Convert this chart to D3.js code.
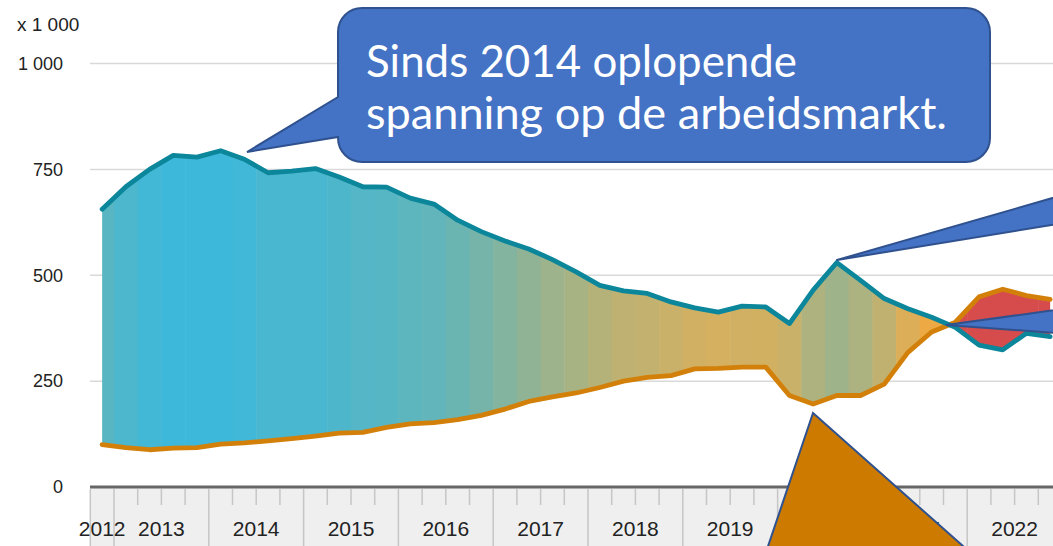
<!DOCTYPE html>
<html>
<head>
<meta charset="utf-8">
<script src="https://cdn.jsdelivr.net/npm/d3@7"></script>
<style>
    body { margin: 0; background: #fff; }
    svg { display: block; }
</style>
</head>
<body>
<svg id="chart" width="1053" height="546"></svg>
<script>
// quarterly figures, x 1 000
var quarters = ["2012 Q4",
    "2013 Q1", "2013 Q2", "2013 Q3", "2013 Q4",
    "2014 Q1", "2014 Q2", "2014 Q3", "2014 Q4",
    "2015 Q1", "2015 Q2", "2015 Q3", "2015 Q4",
    "2016 Q1", "2016 Q2", "2016 Q3", "2016 Q4",
    "2017 Q1", "2017 Q2", "2017 Q3", "2017 Q4",
    "2018 Q1", "2018 Q2", "2018 Q3", "2018 Q4",
    "2019 Q1", "2019 Q2", "2019 Q3", "2019 Q4",
    "2020 Q1", "2020 Q2", "2020 Q3", "2020 Q4",
    "2021 Q1", "2021 Q2", "2021 Q3", "2021 Q4",
    "2022 Q1", "2022 Q2", "2022 Q3", "2022 Q4"];

var werklozen = [656,
    709, 750, 783, 779,
    794, 774, 742, 746,
    752, 732, 709, 708,
    682, 668, 630, 603,
    581, 562, 537, 508,
    476, 463, 457, 437,
    423, 413, 427, 425,
    386, 465, 530, 488,
    445, 421, 401, 377,
    335, 324, 363, 355];

var vacatures = [100,
    93, 88, 92, 93,
    101, 104, 109, 114,
    120, 127, 129, 141,
    149, 152, 159, 169,
    184, 202, 213, 222,
    235, 250, 259, 263,
    279, 280, 283, 283,
    216, 196, 216, 216,
    243, 318, 366, 389,
    449, 467, 452, 443];

var years = ["2012", "2013", "2014", "2015", "2016", "2017", "2018", "2019", "2020", "2021", "2022"];
var yTicks = [0, 250, 500, 750, 1000];

var W = 1053, H = 546;
var svg = d3.select("#chart");

var x = d3.scaleBand()
    .domain(quarters)
    .range([90.3, 90.3 + quarters.length * 23.7]);

var y = d3.scaleLinear()
    .domain([0, 1000])
    .range([487, 63.5]);

function cx(q) {
    return x(q) + x.bandwidth() / 2;
}

var nl = d3.formatLocale({ decimal: ",", thousands: " ", grouping: [3], currency: ["€", ""] });
var fmt = nl.format(",d");

var data = quarters.map(function (q, i) {
    return { q: q, w: werklozen[i], v: vacatures[i] };
});

// strip colour from the gap between the two series
var gapColor = d3.scaleLinear()
    .domain([0, 140, 300, 470, 690])
    .range(["#f6a83a", "#d3b062", "#a4b386", "#6ab4b2", "#3db8db"])
    .clamp(true);

// gridlines
svg.append("g").selectAll("line")
    .data(yTicks.filter(function (d) { return d > 0; }))
    .enter()
    .append("line")
    .attr("x1", 90)
    .attr("x2", W)
    .attr("y1", function (d) { return y(d); })
    .attr("y2", function (d) { return y(d); })
    .attr("stroke", "#d9d9d9")
    .attr("stroke-width", 1.5);

// y labels
var yAxis = svg.append("g")
    .attr("transform", "translate(90,0)")
    .call(d3.axisLeft(y).tickValues(yTicks).tickSize(0).tickPadding(27).tickFormat(fmt));
yAxis.select(".domain").remove();
yAxis.selectAll("text")
    .attr("font-family", "Liberation Sans, Arial, sans-serif")
    .attr("font-size", "18px")
    .attr("fill", "#222");

svg.append("text")
    .attr("x", 17)
    .attr("y", 31)
    .text("x 1 000")
    .attr("font-family", "Liberation Sans, Arial, sans-serif")
    .attr("font-size", "19px")
    .attr("fill", "#222");

// x band
svg.append("rect")
    .attr("x", 90.3)
    .attr("y", 488)
    .attr("width", W)
    .attr("height", H - 488)
    .attr("fill", "#efefef");

var ticks = svg.append("g");
ticks.selectAll("line")
    .data(quarters)
    .enter()
    .append("line")
    .attr("x1", function (d) { return x(d); })
    .attr("x2", function (d) { return x(d); })
    .attr("y1", 489)
    .attr("y2", function (d, i) {
        return (i === 0 || d.slice(5) === "Q1") ? H : 505;
    })
    .attr("stroke", "#c6c6c6")
    .attr("stroke-width", 1.5);

svg.append("g").selectAll("text")
    .data(years)
    .enter()
    .append("text")
    .attr("x", function (yr) {
        var qs = quarters.filter(function (q) { return q.slice(0, 4) === yr; });
        return (x(qs[0]) + x(qs[qs.length - 1]) + x.bandwidth()) / 2;
    })
    .attr("y", 536)
    .attr("text-anchor", "middle")
    .text(function (d) { return d; })
    .attr("font-family", "Liberation Sans, Arial, sans-serif")
    .attr("font-size", "21px")
    .attr("fill", "#222");

svg.append("line")
    .attr("x1", 90)
    .attr("x2", W)
    .attr("y1", 487)
    .attr("y2", 487)
    .attr("stroke", "#666")
    .attr("stroke-width", 3);

// area between the series, painted in quarter strips
var area = d3.area()
    .x(function (d) { return cx(d.q); })
    .y0(function (d) { return y(d.v); })
    .y1(function (d) { return y(d.w); });

svg.append("clipPath")
    .attr("id", "gap")
    .append("path")
    .attr("d", area(data));

svg.append("g")
    .attr("clip-path", "url(#gap)")
    .selectAll("rect")
    .data(data)
    .enter()
    .append("rect")
    .attr("x", function (d) { return x(d.q); })
    .attr("width", x.bandwidth() + 0.5)
    .attr("y", 0)
    .attr("height", H)
    .attr("fill", function (d) {
        return d.w - d.v < 0 ? "#d64b4b" : gapColor(d.w - d.v);
    });

var lineV = d3.line()
    .x(function (d) { return cx(d.q); })
    .y(function (d) { return y(d.v); });

var lineW = d3.line()
    .x(function (d) { return cx(d.q); })
    .y(function (d) { return y(d.w); });

svg.append("path")
    .attr("d", lineV(data))
    .attr("fill", "none")
    .attr("stroke", "#d2800a")
    .attr("stroke-width", 4.8)
    .attr("stroke-linejoin", "round")
    .attr("stroke-linecap", "round");

svg.append("path")
    .attr("d", lineW(data))
    .attr("fill", "none")
    .attr("stroke", "#0c869b")
    .attr("stroke-width", 4.8)
    .attr("stroke-linejoin", "round")
    .attr("stroke-linecap", "round");

// callouts
svg.append("path")
    .attr("d", "M362,8 H966 A24,24 0 0 1 990,32 V138 A24,24 0 0 1 966,162 H362 A24,24 0 0 1 338,138 V137 L247,152 L338,97 V32 A24,24 0 0 1 362,8 Z")
    .attr("fill", "#4472c4")
    .attr("stroke", "#2f528f")
    .attr("stroke-width", 2);

var bubble = svg.append("text")
    .attr("font-family", "Lato, Open Sans, sans-serif")
    .attr("font-size", "45px")
    .attr("fill", "#fff");
bubble.append("tspan")
    .attr("x", 366).attr("y", 77)
    .attr("textLength", 431).attr("lengthAdjust", "spacingAndGlyphs")
    .text("Sinds 2014 oplopende");
bubble.append("tspan")
    .attr("x", 366).attr("y", 129)
    .attr("textLength", 581).attr("lengthAdjust", "spacingAndGlyphs")
    .text("spanning op de arbeidsmarkt.");

svg.append("path")
    .attr("d", "M837,260 L1070,193 L1070,222 Z")
    .attr("fill", "#4472c4")
    .attr("stroke", "#2f528f")
    .attr("stroke-width", 2)
    .attr("stroke-linejoin", "round");

svg.append("path")
    .attr("d", "M946,325 L1070,308 L1070,334 Z")
    .attr("fill", "#4472c4")
    .attr("stroke", "#2f528f")
    .attr("stroke-width", 2);

svg.append("path")
    .attr("d", "M813,413 L760,570 L990,570 Z")
    .attr("fill", "#cc7a00")
    .attr("stroke", "#2f528f")
    .attr("stroke-width", 2);
</script>
</body>
</html>
